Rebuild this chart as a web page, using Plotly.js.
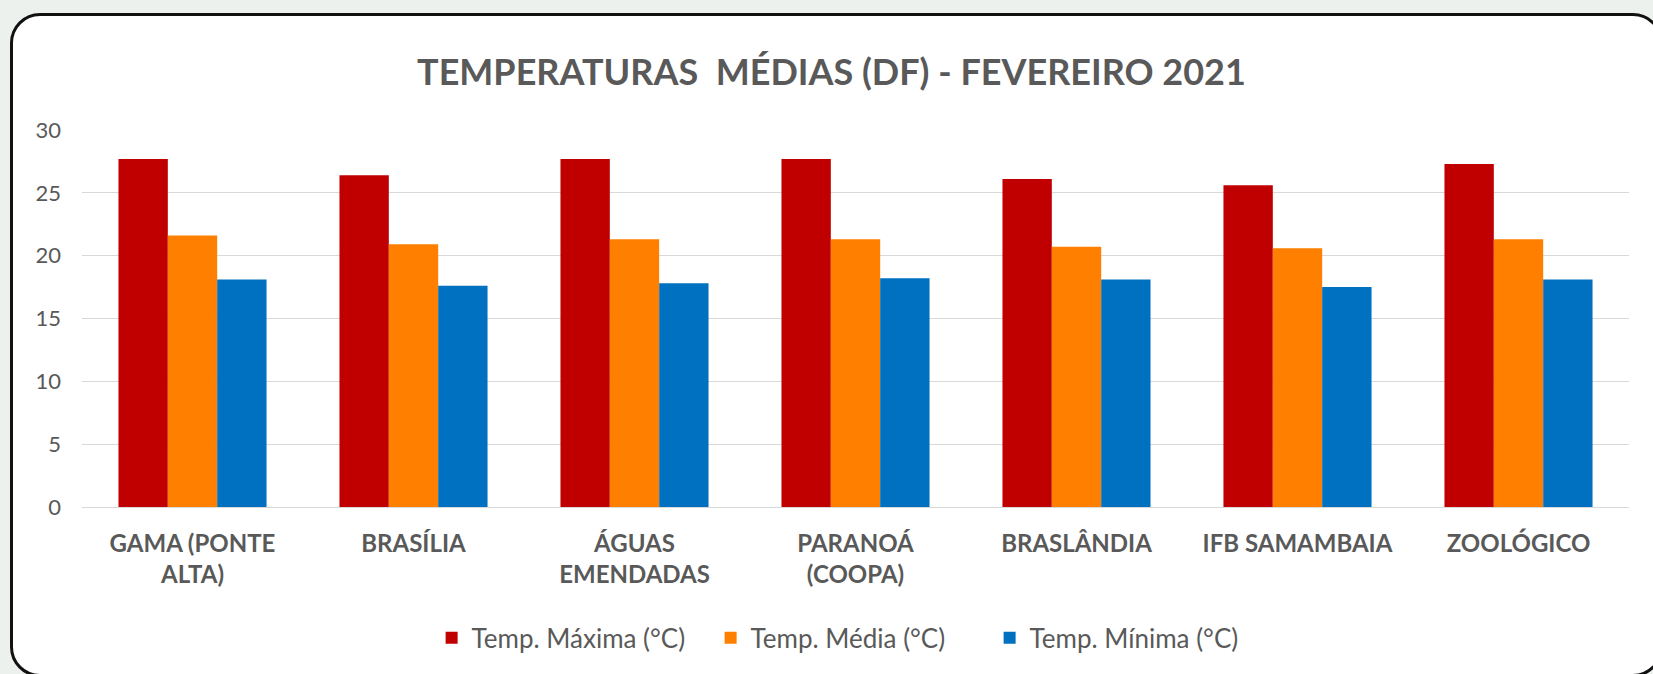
<!DOCTYPE html>
<html>
<head>
<meta charset="utf-8">
<script src="https://cdn.plot.ly/plotly-3.0.1.min.js"></script>
<style>
    html, body { margin: 0; padding: 0; }
    body { width: 1653px; height: 674px; overflow: hidden; background: #edf1ee; position: relative; }
    #frame {
        position: absolute; left: 10px; top: 13px; width: 1653px; height: 664px;
        background: #ffffff; border: 3px solid #111111; border-radius: 30px; box-sizing: border-box;
    }
    #plot { position: absolute; left: 0; top: 0; width: 1653px; height: 674px; }
</style>
</head>
<body>
<div id="frame"></div>
<div id="plot"></div>
<script>
// Stations (x axis categories)
const stations = [
    'GAMA (PONTE<br>ALTA)',
    'BRASÍLIA',
    'ÁGUAS<br>EMENDADAS',
    'PARANOÁ<br>(COOPA)',
    'BRASLÂNDIA',
    'IFB SAMAMBAIA',
    'ZOOLÓGICO'
];

// Temperatures (°C)
const tempMax = [27.7, 26.4, 27.7, 27.7, 26.1, 25.6, 27.3];
const tempMed = [21.6, 20.9, 21.3, 21.3, 20.7, 20.6, 21.3];
const tempMin = [18.1, 17.6, 17.8, 18.2, 18.1, 17.5, 18.1];

const seriesNames = ['Temp. Máxima (°C)', 'Temp. Média (°C)', 'Temp. Mínima (°C)'];
const seriesColors = ['#c00000', '#ff8000', '#0070c0'];

const yTicks = [0, 5, 10, 15, 20, 25, 30];

function makeBar(values, i) {
    return {
        x: stations,
        y: values,
        type: 'bar',
        name: seriesNames[i],
        marker: { color: seriesColors[i] },
        hoverinfo: 'skip'
    };
}

const data = [tempMax, tempMed, tempMin].map(makeBar);

const layout = {
    width: 1653,
    height: 674,
    paper_bgcolor: 'rgba(0,0,0,0)',
    plot_bgcolor: 'rgba(0,0,0,0)',
    margin: { l: 82, r: 24, t: 130, b: 167 },
    font: { family: 'Lato, "Open Sans", sans-serif', color: '#595959' },
    title: {
        text: 'TEMPERATURAS  MÉDIAS (DF) - FEVEREIRO 2021',
        font: { family: 'Lato, "Open Sans", sans-serif', size: 36, color: '#595959', weight: 'bold' },
        xref: 'container', x: 0.503, xanchor: 'center',
        yref: 'container', y: 0.893, yanchor: 'middle'
    },
    barmode: 'group',
    bargap: 0.33,
    bargroupgap: 0,
    xaxis: {
        type: 'category',
        showgrid: false,
        showline: false,
        ticks: '',
        ticklabelstandoff: 20,
        tickfont: { size: 24, color: '#595959', weight: 'bold' }
    },
    yaxis: {
        range: [0, 30],
        tickvals: yTicks,
        ticktext: yTicks.map(String),
        gridcolor: '#d9d9d9',
        gridwidth: 1,
        zeroline: true,
        zerolinecolor: '#d9d9d9',
        zerolinewidth: 1,
        showline: false,
        ticks: '',
        ticklabelstandoff: 20,
        tickfont: { size: 22, color: '#595959' }
    },
    showlegend: true,
    legend: {
        orientation: 'h',
        x: 0.226, xanchor: 'left',
        y: -0.347, yanchor: 'middle',
        font: { size: 26, color: '#595959' },
        bgcolor: 'rgba(0,0,0,0)',
        itemwidth: 30,
        entrywidth: 234,
        traceorder: 'normal'
    }
};

Plotly.newPlot('plot', data, layout, { displayModeBar: false, staticPlot: true });
</script>
</body>
</html>
